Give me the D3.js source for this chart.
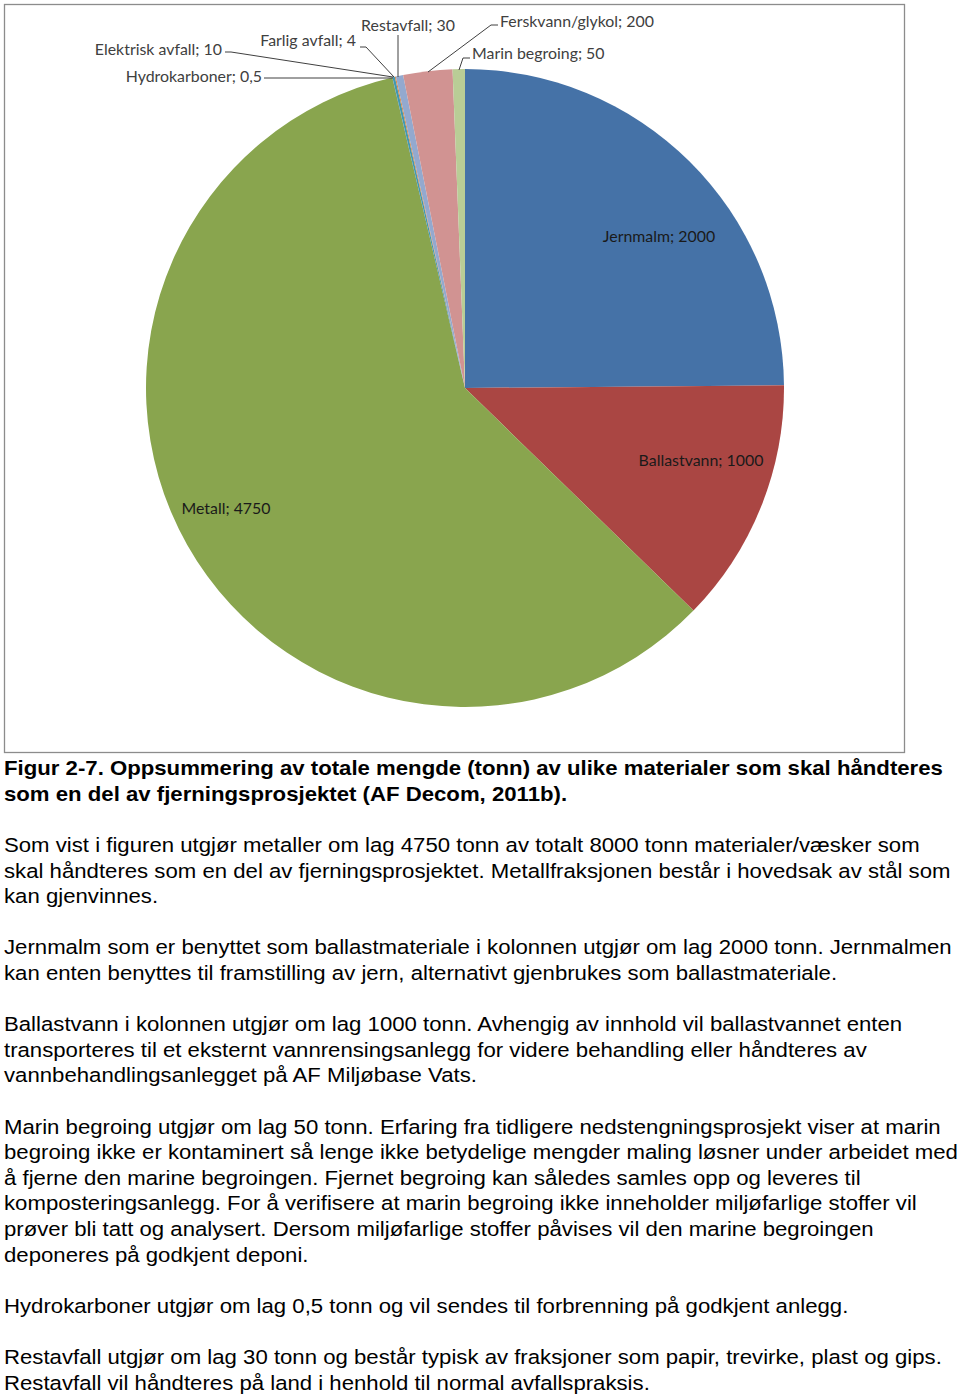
<!DOCTYPE html>
<html><head><meta charset="utf-8">
<script src="https://cdn.jsdelivr.net/npm/d3@7"></script>
<style>body{margin:0;background:#fff}svg{display:block}</style>
</head><body>
<script>
const categories = ["Jernmalm","Ballastvann","Metall","Hydrokarboner","Elektrisk avfall","Farlig avfall","Restavfall","Ferskvann/glykol","Marin begroing"];
const values = [2000,1000,4750,0.5,10,4,30,200,50];
const valueLabels = ["2000","1000","4750","0,5","10","4","30","200","50"];
const colors = ["#4572A7","#AA4643","#89A54E","#71588F","#4198AF","#DB843D","#93A9CF","#D19392","#B9CD96"];

const captionLines = [
 "Figur 2-7. Oppsummering av totale mengde (tonn) av ulike materialer som skal håndteres",
 "som en del av fjerningsprosjektet (AF Decom, 2011b)."
];
const bodyParagraphs = [
 ["Som vist i figuren utgjør metaller om lag 4750 tonn av totalt 8000 tonn materialer/væsker som",
  "skal håndteres som en del av fjerningsprosjektet. Metallfraksjonen består i hovedsak av stål som",
  "kan gjenvinnes."],
 ["Jernmalm som er benyttet som ballastmateriale i kolonnen utgjør om lag 2000 tonn. Jernmalmen",
  "kan enten benyttes til framstilling av jern, alternativt gjenbrukes som ballastmateriale."],
 ["Ballastvann i kolonnen utgjør om lag 1000 tonn. Avhengig av innhold vil ballastvannet enten",
  "transporteres til et eksternt vannrensingsanlegg for videre behandling eller håndteres av",
  "vannbehandlingsanlegget på AF Miljøbase Vats."],
 ["Marin begroing utgjør om lag 50 tonn. Erfaring fra tidligere nedstengningsprosjekt viser at marin",
  "begroing ikke er kontaminert så lenge ikke betydelige mengder maling løsner under arbeidet med",
  "å fjerne den marine begroingen. Fjernet begroing kan således samles opp og leveres til",
  "komposteringsanlegg. For å verifisere at marin begroing ikke inneholder miljøfarlige stoffer vil",
  "prøver bli tatt og analysert. Dersom miljøfarlige stoffer påvises vil den marine begroingen",
  "deponeres på godkjent deponi."],
 ["Hydrokarboner utgjør om lag 0,5 tonn og vil sendes til forbrenning på godkjent anlegg."],
 ["Restavfall utgjør om lag 30 tonn og består typisk av fraksjoner som papir, trevirke, plast og gips.",
  "Restavfall vil håndteres på land i henhold til normal avfallspraksis."]
];

// layout (label anchors)
const labelLayout = [
 {x:659, y:237, anchor:"middle", inside:true},
 {x:701, y:461, anchor:"middle", inside:true},
 {x:226, y:509, anchor:"middle", inside:true},
 {x:262, y:77, anchor:"end", line:[[264,78],[393,78]]},
 {x:222, y:50, anchor:"end", line:[[225,52],[231,52],[393,77]]},
 {x:356, y:41, anchor:"end", line:[[360,47],[366,47],[394,77]]},
 {x:408, y:26, anchor:"middle", line:[[398,35],[398,77]]},
 {x:500, y:22, anchor:"start", line:[[498,25],[491,25],[428,72]]},
 {x:472, y:54, anchor:"start", line:[[470,58],[463,58],[459,70]]}
];

const W=960,H=1395, SX=1.097, SXT=1.093;
const svg=d3.select("body").append("svg").attr("width",W).attr("height",H);
svg.append("rect").attr("x",4.5).attr("y",4.5).attr("width",900).attr("height",748)
  .attr("fill","#fff").attr("stroke","#8c8c8c").attr("stroke-width",1.3);

const cx=465, cy=388, R=319;
const data=categories.map((c,i)=>({name:c,value:values[i],label:valueLabels[i],color:colors[i],lay:labelLayout[i]}));
const pie=d3.pie().sort(null).value(d=>d.value).startAngle(0).endAngle(2*Math.PI);
const arc=d3.arc().innerRadius(0).outerRadius(R);
const g=svg.append("g").attr("transform",`translate(${cx},${cy})`);
g.selectAll("path").data(pie(data)).join("path").attr("d",arc).attr("fill",d=>d.data.color);

const lg=svg.append("g");
data.forEach(d=>{
  const L=d.lay;
  if(L.line){
    lg.append("path").attr("d",d3.line()(L.line)).attr("fill","none").attr("stroke","#404040").attr("stroke-width",1);
  }
  lg.append("text").attr("transform",`translate(${L.x},${L.y}) scale(${SX},1)`)
    .attr("dy","0.35em").attr("text-anchor",L.anchor)
    .attr("font-family","Lato, 'Open Sans', sans-serif").attr("font-size",14.5)
    .attr("fill",L.inside?"#1a1a1a":"#404040")
    .text(d.name+"; "+d.label);
});

const tf="'Liberation Sans', Arial, sans-serif";
const tg=svg.append("g").attr("font-family",tf).attr("font-size",20.3).attr("fill","#000")
  .attr("transform",`translate(4,0) scale(${SXT},1)`);
captionLines.forEach((t,i)=>{
  tg.append("text").attr("x",0).attr("y",775+i*25.7).attr("font-weight","bold").text(t);
});
let y=852;
bodyParagraphs.forEach(p=>{
  p.forEach(t=>{ tg.append("text").attr("x",0).attr("y",y).text(t); y+=25.6; });
  y+=25.6;
});
</script>
</body></html>
